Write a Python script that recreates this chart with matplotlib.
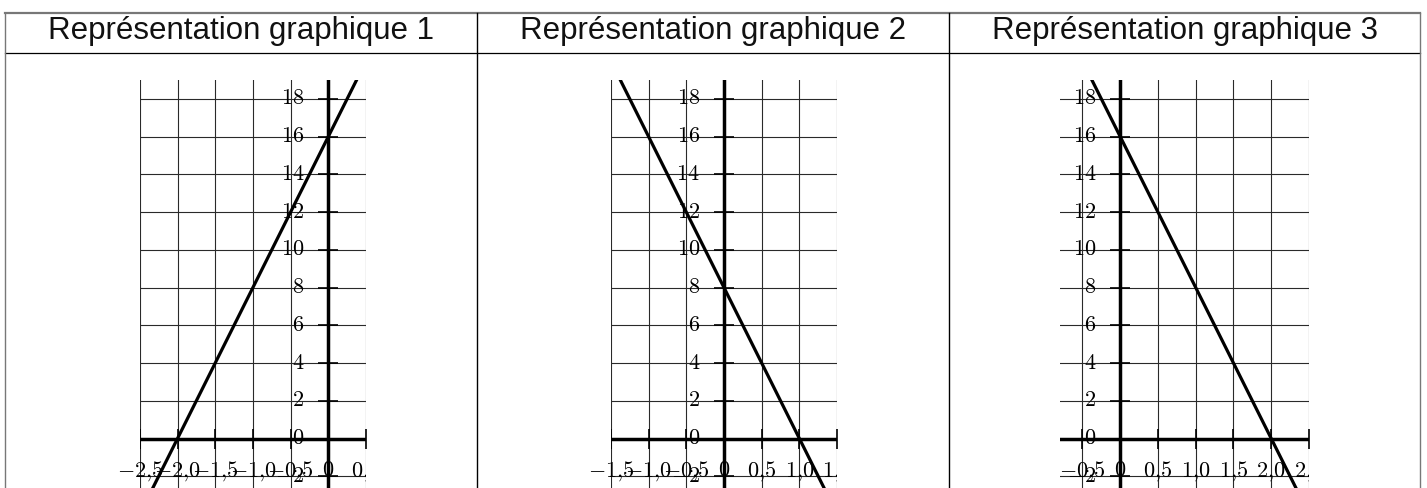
import matplotlib
matplotlib.use("Agg")
import matplotlib.pyplot as plt
from matplotlib.lines import Line2D
from matplotlib.patches import Rectangle

plt.rcParams['mathtext.fontset'] = 'cm'
plt.rcParams['font.family'] = ['Liberation Sans', 'DejaVu Sans']

# ---------------- data ----------------
titles = ["Représentation graphique 1", "Représentation graphique 2", "Représentation graphique 3"]
x_ticks = [
    [-2.5, -2.0, -1.5, -1.0, -0.5, 0.0, 0.5],
    [-1.5, -1.0, -0.5, 0.0, 0.5, 1.0, 1.5],
    [-0.5, 0.0, 0.5, 1.0, 1.5, 2.0, 2.5],
]
x_limits = [(-2.5, 0.5), (-1.5, 1.5), (-0.8, 2.5)]
y_ticks = [-2, 0, 2, 4, 6, 8, 10, 12, 14, 16, 18]
y_limits = (-2.62, 19)
# two points read on each straight line
line_x = [[-2.5, 0.5], [-1.5, 1.5], [-0.8, 2.5]]
line_y = [[-4, 20], [20, -4], [22.4, -4]]

# ---------------- layout (pixels) ----------------
W, H = 1427, 488
fig = plt.figure(figsize=(W / 100, H / 100), dpi=100)

def fx(x):
    return x / W

def fy(y):
    return 1 - y / H

# table borders
col_edges = [5, 477, 949, 1420]
top_y, head_y = 12.5, 52.5
fig.add_artist(Line2D([fx(col_edges[0]), fx(col_edges[-1])], [fy(top_y), fy(top_y)],
                      color='#777777', lw=1.6))
fig.add_artist(Line2D([fx(col_edges[0]), fx(col_edges[-1])], [fy(head_y), fy(head_y)],
                      color='black', lw=0.9))
for i, cx in enumerate(col_edges):
    col = '#777777' if i in (0, 3) else 'black'
    fig.add_artist(Line2D([fx(cx), fx(cx)], [fy(top_y), 0], color=col, lw=1.0))

for i, t in enumerate(titles):
    cx = (col_edges[i] + col_edges[i + 1]) / 2
    fig.text(fx(cx), fy(38.5), t, ha='center', va='baseline', fontsize=22.5,
             color='#111111')

# axes pixel positions (left, right) ; top at 80, bottom at figure bottom
ax_px = [(139.8, 366.0), (610.9, 837.1), (1059.8, 1309.0)]
ax_top = 80

def fmt(v):
    if v == 0:
        return r'$0$'
    s = ('%.1f' % abs(v)).replace('.', '{,}')
    if v < 0:
        return r'$-' + s + '$'
    return r'$' + s + '$'

for i in range(3):
    l, r = ax_px[i]
    ax = fig.add_axes([fx(l), 0, (r - l) / W, (H - ax_top) / H])
    ax.set_xlim(*x_limits[i])
    ax.set_ylim(*y_limits)
    ax.set_axis_off()

    # grid
    for xv in x_ticks[i]:
        ax.axvline(xv, color='#2a2a2a', lw=0.8, zorder=1)
    for yv in y_ticks:
        ax.axhline(yv, color='#2a2a2a', lw=0.8, zorder=1)

    # main axes
    ax.axhline(0, color='black', lw=2.5, zorder=3)
    ax.axvline(0, color='black', lw=2.5, zorder=3)

    # tick marks
    ax.plot(x_ticks[i], [0] * len(x_ticks[i]), ls='none', marker='|', ms=14,
            mew=1.2, color='black', zorder=3)
    ax.plot([0] * len(y_ticks), y_ticks, ls='none', marker='_', ms=14,
            mew=1.2, color='black', zorder=3)

    # the graph
    ax.plot(line_x[i], line_y[i], color='black', lw=2.3, zorder=4,
            solid_capstyle='butt')

    clip = Rectangle((-1, -1), 2.0, 3.0, transform=ax.transAxes, fill=False)

    # x tick labels
    for xv in x_ticks[i]:
        t = ax.text(xv, -2, fmt(xv), ha='center', va='baseline', fontsize=16,
                    zorder=5, clip_on=True)
        t.set_clip_path(clip)
    # y tick labels
    for yv in y_ticks:
        lab = r'$%d$' % yv if yv >= 0 else r'$-%d$' % abs(yv)
        ax.annotate(lab, xy=(0, yv), xytext=(-24, 0), textcoords='offset pixels',
                    ha='right', va='center', fontsize=16, zorder=5,
                    annotation_clip=False)

fig.savefig('out.png', dpi=100)
